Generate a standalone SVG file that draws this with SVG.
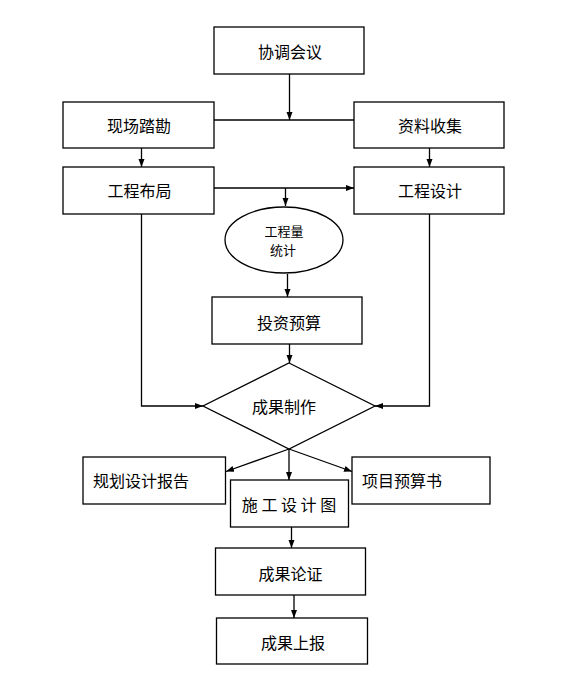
<svg xmlns="http://www.w3.org/2000/svg" width="578" height="676" viewBox="0 0 578 676">
<style>
.box{fill:#fff;stroke:#000;stroke-width:1.3}
.ln{fill:none;stroke:#000;stroke-width:1.3}
.t{font-family:"Noto Sans CJK SC","Liberation Sans",sans-serif;font-size:16px;fill:#000;dominant-baseline:central}
.c{text-anchor:middle}
.s{font-size:13px}
</style>
<defs>
<marker id="ah" markerUnits="userSpaceOnUse" markerWidth="9" markerHeight="7" refX="8" refY="3" orient="auto">
<path d="M0,0 L8,3 L0,6 z" fill="#000"/>
</marker>
</defs>
<rect width="578" height="676" fill="#fff"/>
<g id="connectors">
<line class="ln" x1="289.5" y1="74" x2="289.5" y2="120" marker-end="url(#ah)"/>
<line class="ln" x1="214" y1="120" x2="354" y2="120"/>
<line class="ln" x1="141.5" y1="148" x2="141.5" y2="167" marker-end="url(#ah)"/>
<line class="ln" x1="429.5" y1="148" x2="429.5" y2="167" marker-end="url(#ah)"/>
<line class="ln" x1="214" y1="188" x2="354" y2="188" marker-end="url(#ah)"/>
<line class="ln" x1="285.5" y1="188" x2="285.5" y2="206" marker-end="url(#ah)"/>
<line class="ln" x1="287.5" y1="274" x2="287.5" y2="297" marker-end="url(#ah)"/>
<line class="ln" x1="289.5" y1="344" x2="289.5" y2="363" marker-end="url(#ah)"/>
<polyline class="ln" points="141.5,214 141.5,406 203,406" marker-end="url(#ah)"/>
<polyline class="ln" points="429.5,214 429.5,406 375,406" marker-end="url(#ah)"/>
<line class="ln" x1="289" y1="449" x2="226" y2="471.5" marker-end="url(#ah)"/>
<line class="ln" x1="289" y1="449" x2="352" y2="471.5" marker-end="url(#ah)"/>
<line class="ln" x1="289" y1="449" x2="289" y2="480" marker-end="url(#ah)"/>
<line class="ln" x1="291.5" y1="527" x2="291.5" y2="548" marker-end="url(#ah)"/>
<line class="ln" x1="294" y1="595" x2="294" y2="618" marker-end="url(#ah)"/>
</g>
<g id="n1"><rect class="box" x="214" y="27" width="150" height="47"/><text class="t c" x="290" y="51">协调会议</text></g>
<g id="n2"><rect class="box" x="63" y="102" width="151" height="46"/><text class="t c" x="139" y="125">现场踏勘</text></g>
<g id="n3"><rect class="box" x="354" y="102" width="150" height="46"/><text class="t c" x="430" y="125">资料收集</text></g>
<g id="n4"><rect class="box" x="63" y="167" width="151" height="47"/><text class="t c" x="139.5" y="190">工程布局</text></g>
<g id="n5"><rect class="box" x="354" y="167" width="150" height="47"/><text class="t c" x="430" y="190">工程设计</text></g>
<g id="n6"><ellipse class="box" cx="284" cy="240" rx="59" ry="33"/><text class="t c s" x="284" y="230.5">工程量</text><text class="t c s" x="283" y="249.5">统计</text></g>
<g id="n7"><rect class="box" x="212" y="297" width="150" height="47"/><text class="t c" x="289" y="322">投资预算</text></g>
<g id="n8"><polygon class="box" points="289,363 375,406 289,449 203,406"/><text class="t c" x="284" y="406">成果制作</text></g>
<g id="n9"><rect class="box" x="83" y="457" width="142.5" height="47"/><text class="t" x="93" y="480">规划设计报告</text></g>
<g id="n10"><rect class="box" x="230.5" y="480" width="118" height="47"/><text class="t c" x="289" y="504">施 工 设 计 图</text></g>
<g id="n11"><rect class="box" x="352" y="457" width="138" height="47"/><text class="t" x="362" y="480">项目预算书</text></g>
<g id="n12"><rect class="box" x="215.5" y="548" width="150" height="47"/><text class="t c" x="290.5" y="573">成果论证</text></g>
<g id="n13"><rect class="box" x="216.5" y="618" width="151" height="46"/><text class="t c" x="293" y="641.5">成果上报</text></g>
</svg>
